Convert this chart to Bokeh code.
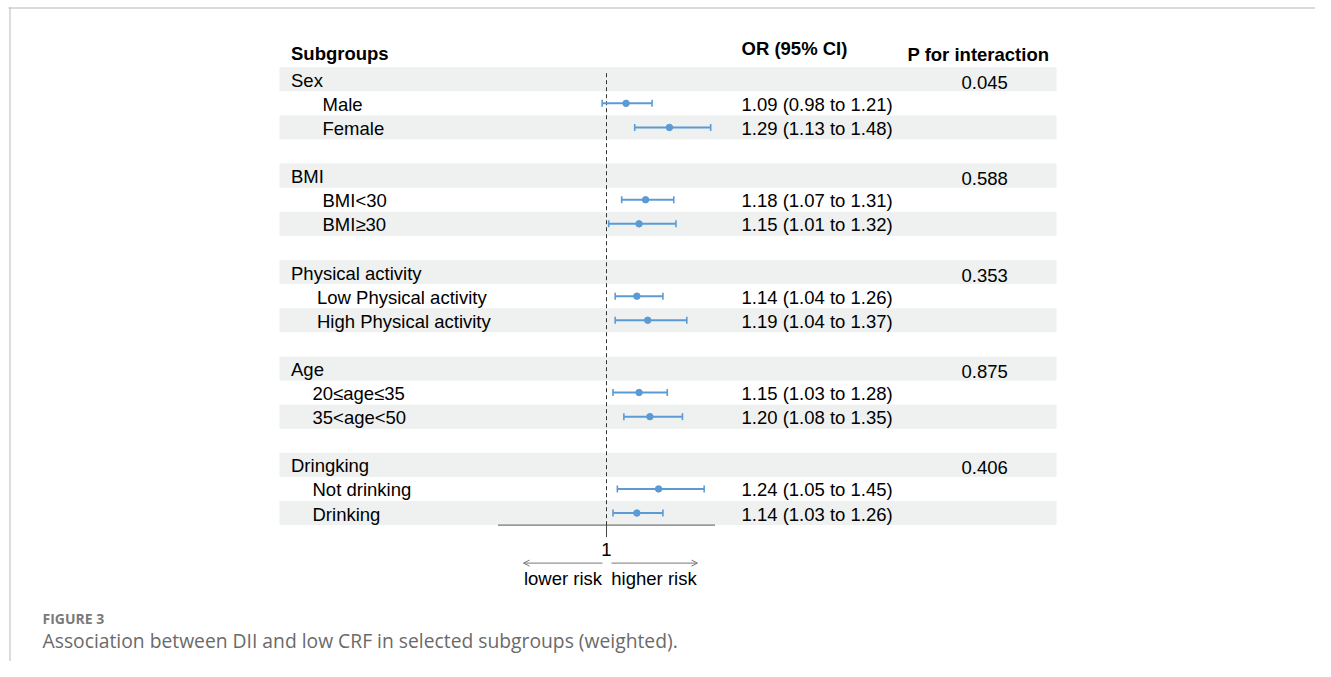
from bokeh.plotting import figure
from bokeh.models import Range1d, Arrow, OpenHead, ColumnDataSource
from bokeh.core.properties import value
from bokeh.embed import file_html
from bokeh.resources import INLINE

# ---------------- data ----------------
groups = ["Sex", "BMI", "Physical activity", "Age", "Dringking"]
p_interaction = ["0.045", "0.588", "0.353", "0.875", "0.406"]
subgroups = [
    ["Male", "Female"],
    ["BMI<30", "BMI\u226530"],
    ["Low Physical activity", "High Physical activity"],
    ["20\u2264age\u226435", "35<age<50"],
    ["Not drinking", "Drinking"],
]
or_est = [1.09, 1.29, 1.18, 1.15, 1.14, 1.19, 1.15, 1.20, 1.24, 1.14]
ci_low = [0.98, 1.13, 1.07, 1.01, 1.04, 1.04, 1.03, 1.08, 1.05, 1.03]
ci_high = [1.21, 1.48, 1.31, 1.32, 1.26, 1.37, 1.28, 1.35, 1.45, 1.26]
headers = ["Subgroups", "OR (95% CI)", "P for interaction"]
null_value = 1
axis_limits = [0.5, 1.5]
axis_ticks = [1]
direction_labels = ["lower risk", "higher risk"]
fig_label = "FIGURE 3"
caption = "Association between DII and low CRF in selected subgroups (weighted)."

# ---------------- layout / style ----------------
ORIG = 0
W, H = 1315, 661
X_ONE = 606.0          # x of OR = 1
PX_PER_UNIT = 217.0    # pixels per OR unit
ROW_TOP0 = 66.7
ROW_H = 24.1
STRIPE_L, STRIPE_R = 279, 1056
LABEL_X = 290.5
SUB_INDENT = [31.5, 31.5, 26.0, 21.5, 21.5]
OR_X = 741
P_X = 961
BLUE = "#5B9BD5"
STRIPE = "#EEF1F0"
FONT = value("Liberation Sans")
FS = value("18.5px")

p = figure(width=W, height=H, output_backend="svg", toolbar_location=None,
           x_range=Range1d(ORIG, ORIG + W), y_range=Range1d(ORIG + H, ORIG),
           x_axis_location=None, y_axis_location=None, min_border=0)
p.grid.visible = False
p.outline_line_color = None
p.background_fill_color = "white"
p.border_fill_color = "white"
p.extra_x_ranges = {"or": Range1d(1 + (ORIG - X_ONE) / PX_PER_UNIT,
                                  1 + (ORIG + W - X_ONE) / PX_PER_UNIT)}

# page frame lines
p.segment(x0=[8], x1=[W], y0=[7.5], y1=[7.5], line_color="#CFCFCF", line_width=1.5)
p.segment(x0=[9.5], x1=[9.5], y0=[7], y1=[H], line_color="#C4C4C4", line_width=1.2)

# build rows
rows = []
k = 0
for gi, g in enumerate(groups):
    rows.append(("group", g, gi))
    for s in subgroups[gi]:
        rows.append(("sub", s, (gi, k)))
        k += 1
    if gi < len(groups) - 1:
        rows.append(("blank", "", None))

tops = [ROW_TOP0 + i * ROW_H for i in range(len(rows))]
centers = [t + ROW_H / 2 for t in tops]

# stripes
st = [tops[i] for i in range(len(rows)) if i % 2 == 0]
p.quad(left=STRIPE_L, right=STRIPE_R, top=st, bottom=[t + ROW_H for t in st],
       fill_color=STRIPE, line_color=None)

# headers
p.text(x=[LABEL_X], y=[53], text=[headers[0]], text_font=FONT, text_font_size=FS,
       text_font_style="bold", text_baseline="middle", text_color="black")
p.text(x=[OR_X], y=[48], text=[headers[1]], text_font=FONT, text_font_size=FS,
       text_font_style="bold", text_baseline="middle", text_color="black")
p.text(x=[907], y=[54], text=[headers[2]], text_font=FONT, text_font_size=FS,
       text_font_style="bold", text_baseline="middle", text_color="black")

gx, gy, gt, px_, py_, pt = [], [], [], [], [], []
sx, sy, st_, ox, oy, ot = [], [], [], [], [], []
fy = []
for i, (kind, lab, info) in enumerate(rows):
    c = centers[i]
    if kind == "group":
        gx.append(LABEL_X); gy.append(c + 1); gt.append(lab)
        px_.append(P_X); py_.append(c + 3); pt.append(p_interaction[info])
    elif kind == "sub":
        gi, kk = info
        sx.append(LABEL_X + SUB_INDENT[gi]); sy.append(c + 1); st_.append(lab)
        ox.append(OR_X); oy.append(c + 1)
        ot.append(f"{or_est[kk]:.2f} ({ci_low[kk]:.2f} to {ci_high[kk]:.2f})")
        fy.append(c)

for xs, ys, ts in [(gx, gy, gt), (px_, py_, pt), (sx, sy, st_), (ox, oy, ot)]:
    p.text(x=xs, y=ys, text=ts, text_font=FONT, text_font_size=FS,
           text_baseline="middle", text_color="black")

# null line
axis_y = ROW_TOP0 + len(rows) * ROW_H
p.segment(x0=[null_value], x1=[null_value], y0=[ROW_TOP0 + 6], y1=[axis_y],
          line_color="#333333", line_width=1, line_dash="4 3", x_range_name="or")

# forest marks
src = ColumnDataSource(dict(y=fy, est=or_est, lo=ci_low, hi=ci_high,
                            yt=[v - 3.5 for v in fy], yb=[v + 3.5 for v in fy]))
p.segment(x0="lo", x1="hi", y0="y", y1="y", source=src, line_color=BLUE,
          line_width=2, x_range_name="or")
p.segment(x0="lo", x1="lo", y0="yt", y1="yb", source=src, line_color=BLUE,
          line_width=1.6, x_range_name="or")
p.segment(x0="hi", x1="hi", y0="yt", y1="yb", source=src, line_color=BLUE,
          line_width=1.6, x_range_name="or")
p.scatter(x="est", y="y", source=src, size=6.5, fill_color=BLUE, line_color=BLUE,
          x_range_name="or")

# axis
p.segment(x0=[axis_limits[0]], x1=[axis_limits[1]], y0=[axis_y], y1=[axis_y],
          line_color="#555555", line_width=1, x_range_name="or")
p.segment(x0=axis_ticks, x1=axis_ticks, y0=[axis_y] * len(axis_ticks),
          y1=[axis_y + 12] * len(axis_ticks), line_color="#444444", line_width=1,
          x_range_name="or")
p.text(x=axis_ticks, y=[axis_y + 24] * len(axis_ticks), text=[str(t) for t in axis_ticks],
       text_font=FONT, text_font_size=FS, text_align="center", text_baseline="middle",
       text_color="black", x_range_name="or")

# direction arrows
gap = 4 / PX_PER_UNIT
left_len = 79 / PX_PER_UNIT
right_len = 87 / PX_PER_UNIT
arrow_y = axis_y + 38
for x_s, x_e in [(null_value - gap, null_value - gap - left_len),
                 (null_value + gap + 1 / PX_PER_UNIT, null_value + gap + right_len)]:
    p.add_layout(Arrow(end=OpenHead(size=6, line_color="#777777", line_width=1),
                       x_start=x_s, x_end=x_e, y_start=arrow_y, y_end=arrow_y,
                       line_color="#777777", line_width=1, x_range_name="or"))
p.text(x=[null_value - gap - left_len / 2, null_value + gap + right_len / 2],
       y=[arrow_y + 15] * 2, text=direction_labels, text_font=FONT, text_font_size=FS,
       text_align="center", text_baseline="middle", text_color="black",
       x_range_name="or")

# caption
p.text(x=[42], y=[618], text=[fig_label], text_font=value("Open Sans"),
       text_font_size=value("14px"), text_font_style="bold", text_baseline="middle",
       text_color="#7A7A7A")
p.text(x=[42], y=[640], text=[caption], text_font=value("Open Sans"),
       text_font_size=value("19.3px"), text_baseline="middle", text_color="#6A6A6A")

open("out.html", "w").write(file_html(p, INLINE))
